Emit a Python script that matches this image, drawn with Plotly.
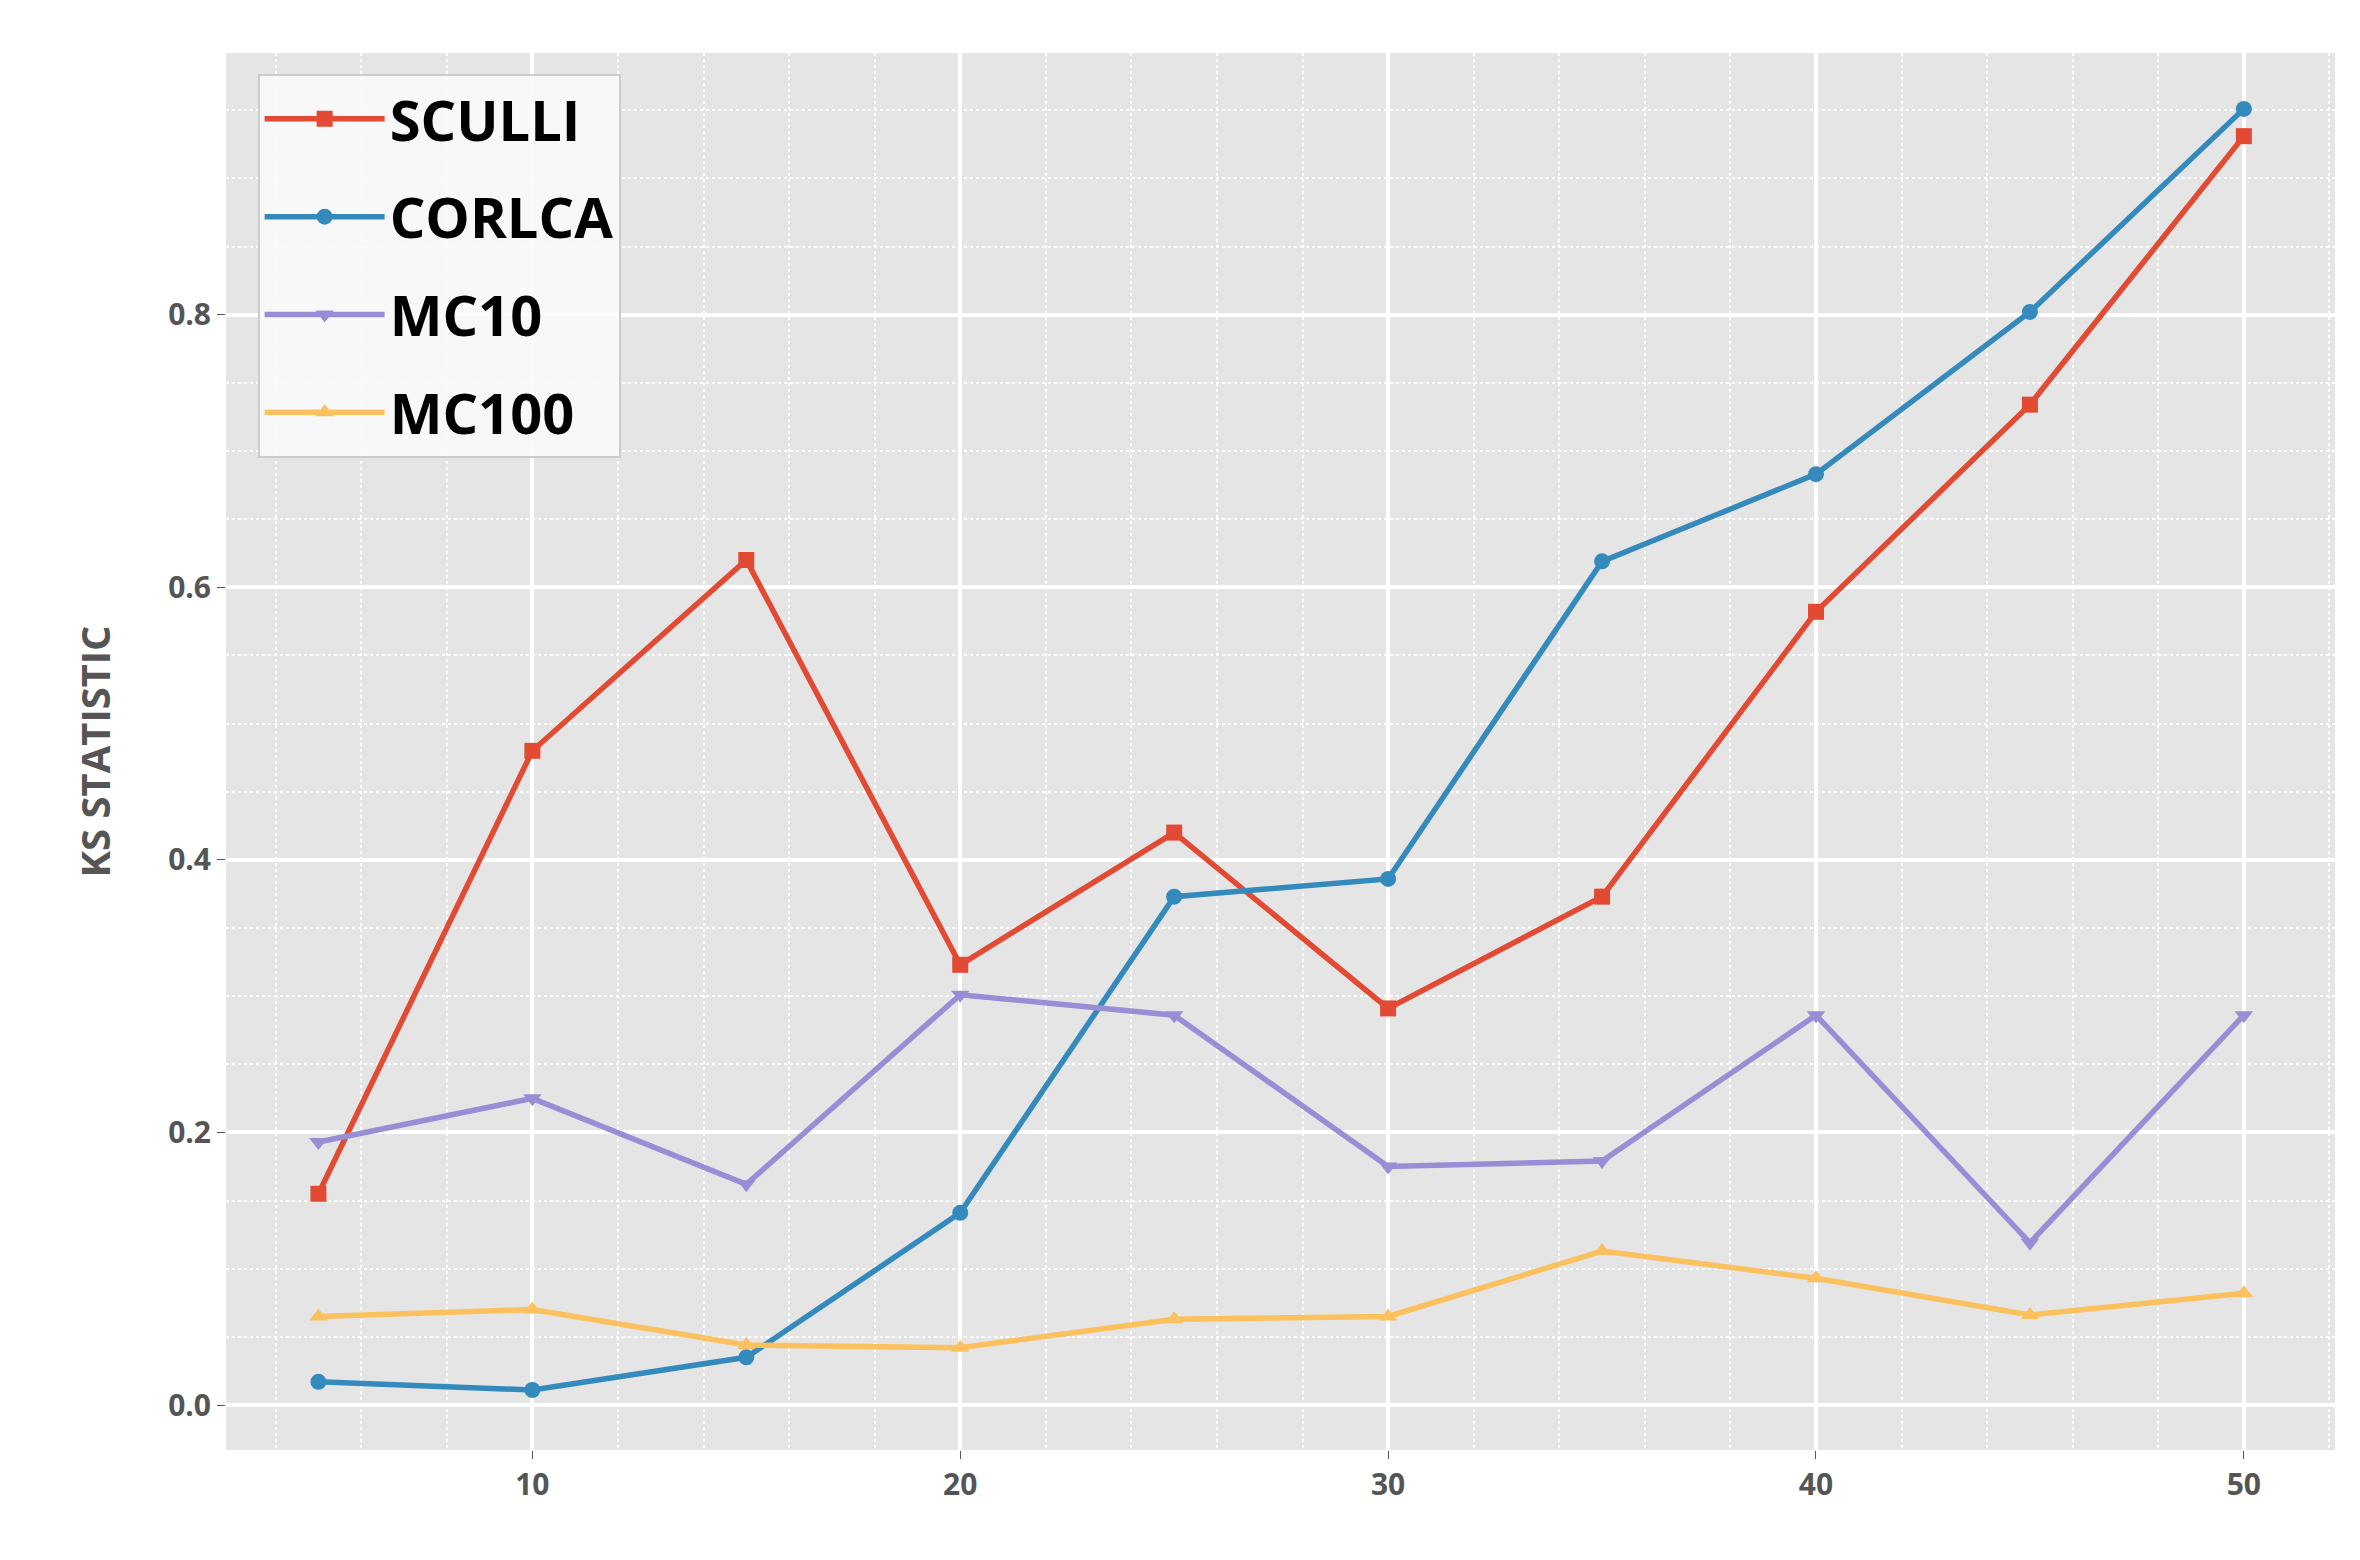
import plotly.graph_objects as go

x = [5, 10, 15, 20, 25, 30, 35, 40, 45, 50]
sculli = [0.155, 0.48, 0.62, 0.323, 0.42, 0.291, 0.373, 0.582, 0.734, 0.931]
corlca = [0.017, 0.011, 0.035, 0.141, 0.373, 0.386, 0.619, 0.683, 0.802, 0.951]
mc10 = [0.193, 0.225, 0.162, 0.301, 0.286, 0.175, 0.179, 0.286, 0.119, 0.286]
mc100 = [0.065, 0.07, 0.044, 0.042, 0.063, 0.065, 0.113, 0.093, 0.066, 0.082]

series = [
    ("SCULLI", sculli, "#E24A33", "square"),
    ("CORLCA", corlca, "#348ABD", "circle"),
    ("MC10", mc10, "#988ED5", "triangle-down"),
    ("MC100", mc100, "#FBC15E", "triangle-up"),
]

fig = go.Figure()
for name, y, c, sym in series:
    fig.add_trace(go.Scatter(x=x, y=y, name=name, mode="lines+markers",
                             legendgroup=name,
                             line=dict(color=c, width=5.5),
                             marker=dict(symbol=sym, size=16, color=c)))

fig.update_layout(
    width=2360, height=1560,
    paper_bgcolor="white", plot_bgcolor="#E5E5E5",
    margin=dict(l=218, r=33, t=45, b=118),
    font=dict(family="Open Sans", color="#555555", size=30),
    legend=dict(x=0.015, y=0.985, xanchor="left", yanchor="top",
                bgcolor="rgba(250,250,250,0.9)", bordercolor="#CCCCCC", borderwidth=2,
                font=dict(size=56, color="black", family="Open Sans", weight="bold"),
                tracegroupgap=22, itemwidth=120),
    showlegend=True,
)
fig.update_xaxes(range=[2.84, 52.13], tickvals=[10, 20, 30, 40, 50],
                 showgrid=True, gridcolor="white", gridwidth=3.5, zeroline=False,
                 ticks="outside", ticklen=8, tickcolor="#555555",
                 tickfont=dict(weight="bold"),
                 minor=dict(dtick=2, tick0=0, showgrid=True, gridcolor="white",
                            griddash="dot", gridwidth=2))
fig.update_yaxes(range=[-0.033, 0.992], tickvals=[0, 0.2, 0.4, 0.6, 0.8],
                 tickformat=".1f",
                 showgrid=True, gridcolor="white", gridwidth=3.5, zeroline=False,
                 ticks="outside", ticklen=8, tickcolor="#555555",
                 tickfont=dict(weight="bold"),
                 title=dict(text="KS STATISTIC", standoff=45,
                            font=dict(size=40, weight="bold")),
                 minor=dict(dtick=0.05, tick0=0, showgrid=True, gridcolor="white",
                            griddash="dot", gridwidth=2))

fig.write_html("out.html")
